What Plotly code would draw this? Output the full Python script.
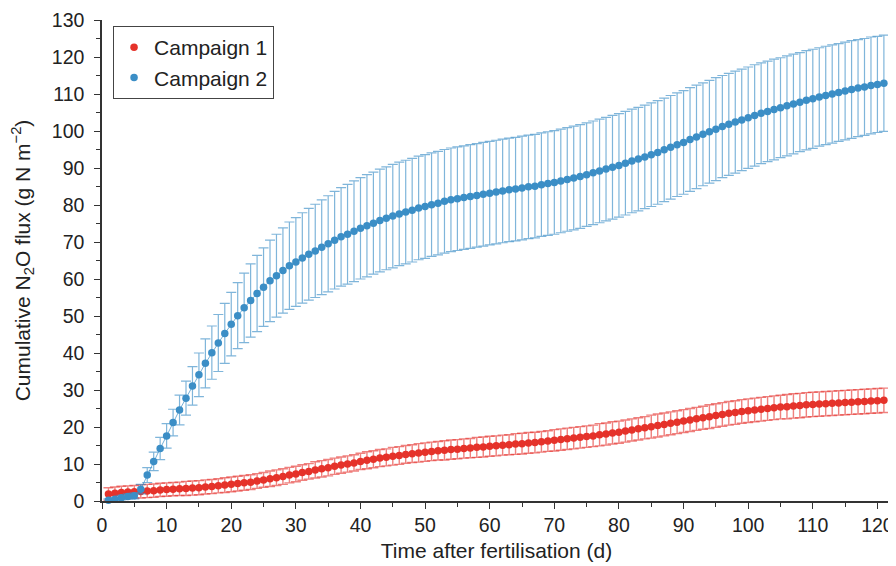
import plotly.graph_objects as go

days = list(range(1, 122))

campaign1 = [
    1.9, 2.1, 2.3, 2.4, 2.5, 2.6, 2.7, 2.8, 3.0, 3.1,
    3.2, 3.3, 3.4, 3.5, 3.6, 3.8, 3.9, 4.1, 4.3, 4.5,
    4.7, 4.9, 5.1, 5.4, 5.7, 6.0, 6.3, 6.6, 7.0, 7.3,
    7.7, 8.0, 8.4, 8.7, 9.0, 9.4, 9.7, 10.0, 10.3, 10.7,
    11.0, 11.3, 11.6, 11.8, 12.1, 12.3, 12.6, 12.8, 13.0, 13.2,
    13.4, 13.6, 13.7, 13.9, 14.0, 14.2, 14.3, 14.5, 14.6, 14.8,
    14.9, 15.1, 15.2, 15.4, 15.5, 15.7, 15.8, 16.0, 16.2, 16.4,
    16.6, 16.8, 17.0, 17.2, 17.4, 17.6, 17.9, 18.1, 18.4, 18.6,
    18.9, 19.2, 19.5, 19.8, 20.1, 20.4, 20.7, 21.0, 21.3, 21.6,
    21.9, 22.2, 22.5, 22.8, 23.1, 23.4, 23.7, 23.9, 24.2, 24.4,
    24.6, 24.8, 25.0, 25.2, 25.4, 25.5, 25.7, 25.8, 26.0, 26.1,
    26.2, 26.3, 26.4, 26.5, 26.6, 26.7, 26.8, 26.9, 27.0, 27.1, 27.2,
]
campaign1_err = [
    1.7, 1.7, 1.7, 1.7, 1.7, 1.8, 1.8, 1.8, 1.8, 1.8,
    1.8, 1.8, 1.9, 1.9, 1.9, 1.9, 1.9, 1.9, 2.0, 2.0,
    2.0, 2.0, 2.0, 2.0, 2.0, 2.1, 2.1, 2.1, 2.1, 2.1,
    2.1, 2.1, 2.2, 2.2, 2.2, 2.2, 2.2, 2.2, 2.2, 2.2,
    2.3, 2.3, 2.3, 2.3, 2.4, 2.4, 2.4, 2.4, 2.5, 2.5,
    2.5, 2.5, 2.6, 2.6, 2.6, 2.6, 2.6, 2.7, 2.7, 2.7,
    2.7, 2.7, 2.7, 2.8, 2.8, 2.8, 2.8, 2.8, 2.8, 2.9,
    2.9, 2.9, 2.9, 2.9, 2.9, 2.9, 3.0, 3.0, 3.0, 3.0,
    3.0, 3.0, 3.0, 3.0, 3.1, 3.1, 3.1, 3.1, 3.1, 3.1,
    3.1, 3.1, 3.1, 3.2, 3.2, 3.2, 3.2, 3.2, 3.2, 3.2,
    3.2, 3.2, 3.2, 3.2, 3.2, 3.3, 3.3, 3.3, 3.3, 3.3,
    3.3, 3.3, 3.3, 3.3, 3.3, 3.3, 3.3, 3.3, 3.3, 3.3, 3.3,
]

campaign2 = [
    0.2, 0.5, 0.9, 1.2, 1.4, 3.2, 7.0, 10.7, 14.2, 17.6,
    21.2, 24.6, 27.8, 31.1, 34.1, 37.2, 40.1, 42.7, 45.3, 47.8,
    50.1, 52.2, 54.2, 56.1, 57.8, 59.5, 60.9, 62.3, 63.6, 64.6,
    65.7, 66.7, 67.6, 68.6, 69.5, 70.5, 71.4, 72.1, 72.9, 73.7,
    74.4, 75.1, 75.8, 76.4, 77.0, 77.6, 78.1, 78.6, 79.2, 79.6,
    80.1, 80.5, 81.0, 81.4, 81.7, 82.0, 82.3, 82.6, 82.9, 83.2,
    83.5, 83.8, 84.1, 84.3, 84.6, 84.9, 85.1, 85.5, 85.8, 86.1,
    86.5, 86.9, 87.3, 87.7, 88.2, 88.7, 89.2, 89.7, 90.2, 90.7,
    91.3, 91.9, 92.4, 93.0, 93.6, 94.2, 94.9, 95.6, 96.3, 96.9,
    97.7, 98.4, 99.1, 99.8, 100.5, 101.2, 101.8, 102.4, 103.0, 103.6,
    104.2, 104.8, 105.3, 105.8, 106.3, 106.8, 107.3, 107.8, 108.3, 108.7,
    109.2, 109.6, 110.0, 110.4, 110.8, 111.2, 111.6, 111.9, 112.3, 112.6, 112.9,
]
campaign2_err = [
    0.4, 0.5, 0.6, 0.7, 0.8, 1.3, 2.0, 2.5, 3.0, 3.3,
    3.6, 4.0, 4.6, 5.2, 5.9, 6.6, 7.2, 7.7, 8.1, 8.6,
    8.9, 9.4, 9.9, 10.3, 10.6, 11.0, 11.2, 11.5, 11.8, 12.0,
    12.2, 12.4, 12.6, 12.8, 13.0, 13.2, 13.3, 13.5, 13.6, 13.7,
    13.8, 13.8, 13.9, 13.9, 14.0, 14.0, 14.0, 14.0, 14.0, 14.0,
    14.0, 14.0, 14.0, 14.0, 14.0, 14.0, 14.0, 14.0, 14.0, 14.0,
    14.0, 14.0, 14.0, 14.0, 14.0, 14.0, 14.0, 14.0, 14.0, 14.0,
    14.0, 14.0, 14.0, 14.0, 14.0, 14.0, 14.0, 14.0, 14.0, 14.0,
    14.0, 14.0, 14.0, 14.0, 14.0, 14.0, 14.0, 14.0, 14.0, 14.0,
    14.0, 14.0, 13.9, 13.9, 13.9, 13.8, 13.8, 13.8, 13.7, 13.7,
    13.7, 13.6, 13.6, 13.6, 13.5, 13.5, 13.5, 13.4, 13.4, 13.4,
    13.3, 13.3, 13.3, 13.2, 13.2, 13.2, 13.1, 13.1, 13.1, 13.0, 13.0,
]

RED = "#e5322a"
BLUE = "#3b8ec6"
FONT = "Arial, 'Liberation Sans', Helvetica, sans-serif"
INK = "#222222"

fig = go.Figure()

# Campaign 1
fig.add_trace(go.Scatter(
    x=days, y=campaign1, mode="markers", name="Campaign 1",
    marker=dict(color=RED, size=7.5),
    error_y=dict(type="data", array=campaign1_err, visible=True,
                 color="rgba(228,45,40,0.6)", thickness=1.4, width=5),
    cliponaxis=False,
))
# Campaign 2 connecting line
fig.add_trace(go.Scatter(
    x=days, y=campaign2, mode="lines", showlegend=False,
    line=dict(color="rgba(59,142,198,0.7)", width=1), hoverinfo="skip",
))
fig.add_trace(go.Scatter(
    x=days, y=campaign2, mode="markers", name="Campaign 2",
    marker=dict(color=BLUE, size=7.5),
    error_y=dict(type="data", array=campaign2_err, visible=True,
                 color="rgba(59,142,198,0.65)", thickness=1.2, width=5),
    cliponaxis=False,
))

axis_common = dict(
    showgrid=False, zeroline=False, showline=True, automargin=False,
    linecolor="#333333", linewidth=1.5,
    ticks="outside", ticklen=6, tickwidth=1.3, tickcolor="#333333",
    tickfont=dict(size=19.5, color=INK, family=FONT),
)

fig.update_xaxes(
    range=[0, 122.1], tick0=0, dtick=10,
    minor=dict(dtick=5, ticks="outside", ticklen=4, tickcolor="#333333", tickwidth=1.2),
    title=dict(text="Time after fertilisation (d)", font=dict(size=21, color=INK, family=FONT), standoff=8),
    **axis_common,
)
fig.update_yaxes(
    range=[0, 130], tick0=0, dtick=10, ticklabelstandoff=6,
    minor=dict(dtick=5, ticks="outside", ticklen=4, tickcolor="#333333", tickwidth=1.2),
    title=dict(text="Cumulative N<sub>2</sub>O flux (g N m<sup>\u22122</sup>)",
               font=dict(size=21, color=INK, family=FONT), standoff=17),
    **axis_common,
)

# page body has an 8px margin, so the figure is offset by 8px
fig.update_layout(
    width=888, height=558,
    margin=dict(l=94, r=5, t=12, b=65),
    paper_bgcolor="white", plot_bgcolor="white",
    font=dict(family=FONT, color=INK),
    legend=dict(
        x=0.014, y=0.9875, xanchor="left", yanchor="top",
        bgcolor="white", bordercolor="#444444", borderwidth=1,
        font=dict(size=21, color=INK, family=FONT),
        itemsizing="trace", entrywidth=128, entrywidthmode="pixels",
    ),
    showlegend=True,
)

fig.write_html("out.html")
